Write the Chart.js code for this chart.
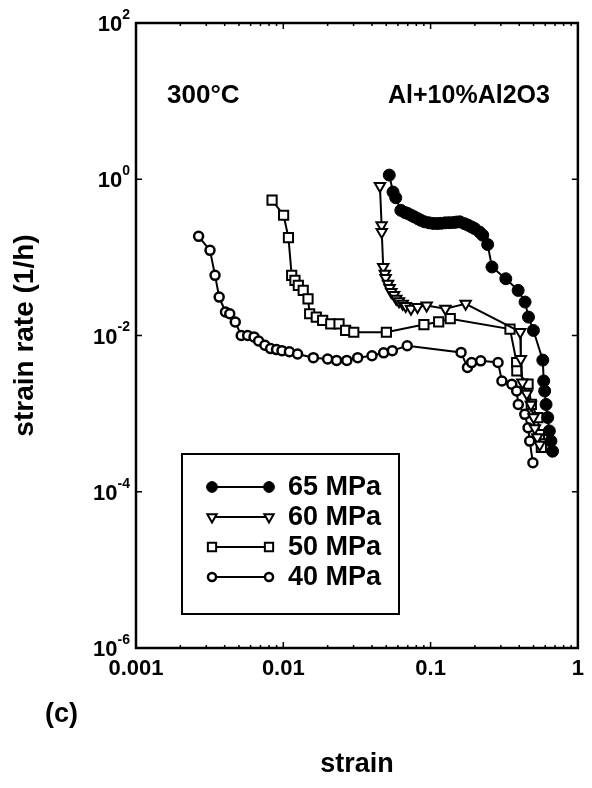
<!DOCTYPE html>
<html>
<head>
<meta charset="utf-8">
<script src="https://cdn.jsdelivr.net/npm/chart.js@4.4.1/dist/chart.umd.min.js"></script>
<style>
  html, body { margin: 0; padding: 0; background: #fff; }
  #wrap { width: 592px; height: 788px; }
</style>
</head>
<body>
<div id="wrap"><canvas id="chart" width="592" height="788"></canvas></div>
<script>
// ---- data ----
const seriesNames = ['65 MPa', '60 MPa', '50 MPa', '40 MPa'];

const strain65 = [0.0524, 0.0556, 0.058, 0.0628, 0.067, 0.070, 0.074, 0.0775, 0.082, 0.0857, 0.091, 0.0975, 0.104, 0.111, 0.118, 0.126, 0.134, 0.143, 0.150, 0.158, 0.170, 0.180, 0.190, 0.199, 0.215, 0.226, 0.244, 0.261, 0.324, 0.393, 0.438, 0.462, 0.499, 0.578, 0.586, 0.595, 0.608, 0.624, 0.640, 0.656, 0.673];
const rate65   = [1.13, 0.686, 0.58, 0.40, 0.375, 0.364, 0.345, 0.330, 0.312, 0.299, 0.285, 0.277, 0.272, 0.271, 0.273, 0.277, 0.278, 0.279, 0.283, 0.285, 0.270, 0.258, 0.245, 0.234, 0.211, 0.192, 0.146, 0.0754, 0.0533, 0.0378, 0.0268, 0.0172, 0.0116, 0.00484, 0.00262, 0.00195, 0.00131, 0.00089, 0.00060, 0.000445, 0.00033];

const strain60 = [0.0453, 0.0465, 0.0466, 0.0477, 0.0489, 0.0495, 0.0514, 0.0527, 0.0541, 0.0565, 0.0585, 0.061, 0.0647, 0.0678, 0.0736, 0.0815, 0.094, 0.126, 0.173, 0.406, 0.41, 0.42, 0.45, 0.48, 0.50, 0.51, 0.53, 0.55];
const rate60   = [0.817, 0.258, 0.211, 0.0754, 0.0618, 0.0543, 0.046, 0.0405, 0.036, 0.0329, 0.0295, 0.0275, 0.0255, 0.0238, 0.022, 0.0231, 0.0242, 0.022, 0.0255, 0.0111, 0.005, 0.0025, 0.0018, 0.0013, 0.0009, 0.00065, 0.0005, 0.0004];

const strain50 = [0.00839, 0.01005, 0.01084, 0.0114, 0.0120, 0.01265, 0.01365, 0.01472, 0.0151, 0.01675, 0.0185, 0.0210, 0.0239, 0.0265, 0.0301, 0.0501, 0.0901, 0.1135, 0.136, 0.346, 0.384, 0.385, 0.459, 0.483, 0.535, 0.548, 0.565];
const rate50   = [0.54, 0.346, 0.179, 0.0589, 0.0508, 0.0438, 0.0378, 0.0295, 0.019, 0.0172, 0.0156, 0.0141, 0.0141, 0.0116, 0.0110, 0.0110, 0.0138, 0.0149, 0.0164, 0.0121, 0.0045, 0.00353, 0.00238, 0.00131, 0.00089, 0.00054, 0.00037];

const strain40 = [0.00266, 0.00318, 0.00344, 0.00367, 0.00405, 0.00433, 0.00472, 0.00518, 0.00573, 0.00633, 0.0068, 0.0075, 0.0082, 0.009, 0.0098, 0.011, 0.0125, 0.016, 0.02, 0.023, 0.027, 0.032, 0.04, 0.048, 0.055, 0.0694, 0.161, 0.178, 0.19, 0.219, 0.287, 0.305, 0.356, 0.384, 0.394, 0.436, 0.459, 0.471, 0.495];
const rate40   = [0.186, 0.123, 0.0589, 0.031, 0.020, 0.019, 0.0149, 0.010, 0.010, 0.0096, 0.0085, 0.0075, 0.0068, 0.0066, 0.0064, 0.0062, 0.0058, 0.0052, 0.005, 0.0048, 0.0048, 0.0052, 0.0055, 0.006, 0.0064, 0.00738, 0.00608, 0.00389, 0.0045, 0.00474, 0.00451, 0.00262, 0.00238, 0.00195, 0.00131, 0.00098, 0.00066, 0.000445, 0.000235];

const xTickValues = [0.001, 0.01, 0.1, 1];
const xTickLabels = ['0.001', '0.01', '0.1', '1'];
const yTickValues = [100, 1, 0.01, 0.0001, 0.000001];
const yTickExps   = ['2', '0', '-2', '-4', '-6'];

const xTitle = 'strain';
const yTitle = 'strain rate (1/h)';
const tempLabel = '300°C';
const materialLabel = 'Al+10%Al2O3';
const panelLabel = '(c)';

const FONT = '"Liberation Sans", Arial, Helvetica, sans-serif';

function pts(xs, ys) {
  return xs.map((v, i) => ({ x: v, y: ys[i] }));
}

const datasets = [
  { label: seriesNames[0], data: pts(strain65, rate65), pointStyle: 'circle', pointRadius: 6, pointBackgroundColor: '#000', pointBorderWidth: 1 },
  { label: seriesNames[1], data: pts(strain60, rate60), pointStyle: 'triangle', pointRotation: 180, pointRadius: 6, pointBackgroundColor: '#fff', pointBorderWidth: 2 },
  { label: seriesNames[2], data: pts(strain50, rate50), pointStyle: 'rect', pointRadius: 6.5, pointBackgroundColor: '#fff', pointBorderWidth: 2 },
  { label: seriesNames[3], data: pts(strain40, rate40), pointStyle: 'circle', pointRadius: 4.5, pointBackgroundColor: '#fff', pointBorderWidth: 2.5 }
].map(d => Object.assign({
  showLine: true, borderColor: '#000', borderWidth: 2, pointBorderColor: '#000', pointHoverRadius: d.pointRadius
}, d));

// minor tick positions: 1..9 inside every decade
function minorTicks(lo, hi) {
  const out = [];
  for (let d = lo; d < hi * 0.999; d *= 10) {
    for (let k = 1; k <= 9; k++) out.push({ v: k * d, major: k === 1 });
  }
  out.push({ v: hi, major: true });
  return out;
}

function marker(ctx, ds, px, py) {
  ctx.save();
  ctx.strokeStyle = '#000';
  ctx.fillStyle = ds.pointBackgroundColor;
  ctx.lineWidth = ds.pointBorderWidth;
  Chart.helpers.drawPoint(ctx, {
    pointStyle: ds.pointStyle, rotation: ds.pointRotation || 0,
    radius: ds.pointRadius, borderWidth: ds.pointBorderWidth
  }, px, py);
  ctx.restore();
}

const decorations = {
  id: 'decorations',
  afterDraw(chart) {
    const { ctx, chartArea: a, scales: { x, y } } = chart;
    ctx.save();
    ctx.strokeStyle = '#000';

    // small inward ticks
    ctx.lineWidth = 1.5;
    minorTicks(0.001, 1).forEach(t => {
      const px = x.getPixelForValue(t.v), len = t.major ? 6 : 3;
      ctx.beginPath();
      ctx.moveTo(px, a.bottom); ctx.lineTo(px, a.bottom - len);
      ctx.moveTo(px, a.top); ctx.lineTo(px, a.top + len);
      ctx.stroke();
    });
    y.ticks.forEach(t => {
      const py = y.getPixelForValue(t.value);
      ctx.beginPath();
      ctx.moveTo(a.left, py); ctx.lineTo(a.left + 6, py);
      ctx.moveTo(a.right, py); ctx.lineTo(a.right - 6, py);
      ctx.stroke();
    });

    // frame
    ctx.lineWidth = 2.5;
    ctx.strokeRect(a.left, a.top, a.right - a.left, a.bottom - a.top);

    // y tick labels 10^n
    ctx.fillStyle = '#000';
    ctx.textBaseline = 'middle';
    ctx.textAlign = 'left';
    y.ticks.forEach(t => {
      const py = y.getPixelForValue(t.value);
      const exp = yTickExps[yTickValues.indexOf(t.value)];
      ctx.font = 'bold 14px ' + FONT;
      const ew = ctx.measureText(exp).width;
      ctx.font = 'bold 22px ' + FONT;
      const bw = ctx.measureText('10').width;
      const right = a.left - 6;
      ctx.fillText('10', right - ew - bw, py + 2);
      ctx.font = 'bold 14px ' + FONT;
      ctx.fillText(exp, right - ew, py - 8);
    });

    // annotations inside the plot
    ctx.font = 'bold 26px ' + FONT;
    ctx.fillText(tempLabel, 167, 96);
    ctx.font = 'bold 25px ' + FONT;
    ctx.fillText(materialLabel, 388, 96);

    // panel label
    ctx.font = 'bold 27px ' + FONT;
    ctx.fillText(panelLabel, 45, 715);

    // legend box
    const lx = 182, ly = 454, lw = 217, lh = 160, row = 30;
    ctx.lineWidth = 2;
    ctx.strokeRect(lx, ly, lw, lh);
    chart.data.datasets.forEach((ds, i) => {
      const ry = ly + 33 + i * row;
      ctx.lineWidth = 2;
      ctx.beginPath();
      ctx.moveTo(lx + 30, ry); ctx.lineTo(lx + 87, ry);
      ctx.stroke();
      const small = Object.assign({}, ds, { pointRadius: ds.pointRadius * 0.9 });
      marker(ctx, small, lx + 30, ry);
      marker(ctx, small, lx + 87, ry);
      ctx.fillStyle = '#000';
      ctx.font = 'bold 27px ' + FONT;
      ctx.textAlign = 'left';
      ctx.fillText(ds.label, lx + 106, ry + 1);
    });
    ctx.restore();
  }
};

new Chart(document.getElementById('chart'), {
  type: 'scatter',
  data: { datasets },
  plugins: [decorations],
  options: {
    responsive: false,
    animation: false,
    devicePixelRatio: 1,
    layout: { padding: { left: 8, right: 4, top: 23, bottom: 0 } },
    plugins: { legend: { display: false }, tooltip: { enabled: false } },
    scales: {
      x: {
        type: 'logarithmic', min: 0.001, max: 1, position: 'bottom',
        afterBuildTicks: s => { s.ticks = xTickValues.map(v => ({ value: v })); },
        afterFit: s => { s.height = 140; },
        grid: { display: false, drawTicks: false },
        border: { display: false },
        ticks: {
          autoSkip: false, maxRotation: 0, padding: 8, color: '#000',
          font: { family: FONT, size: 22, weight: 'bold' },
          callback: v => xTickLabels[xTickValues.indexOf(v)]
        },
        title: {
          display: true, text: xTitle, color: '#000',
          font: { family: FONT, size: 27, weight: 'bold' },
          padding: { top: 0, bottom: 7 }
        }
      },
      y: {
        type: 'logarithmic', min: 0.000001, max: 100,
        afterBuildTicks: s => { s.ticks = yTickValues.map(v => ({ value: v })); },
        afterFit: s => { s.width = 128; },
        grid: { display: false, drawTicks: false },
        border: { display: false },
        ticks: { display: false },
        title: {
          display: true, text: yTitle, color: '#000',
          font: { family: FONT, size: 28, weight: 'bold' },
          padding: { top: 0, bottom: 0 }
        }
      }
    }
  }
});
</script>
</body>
</html>
